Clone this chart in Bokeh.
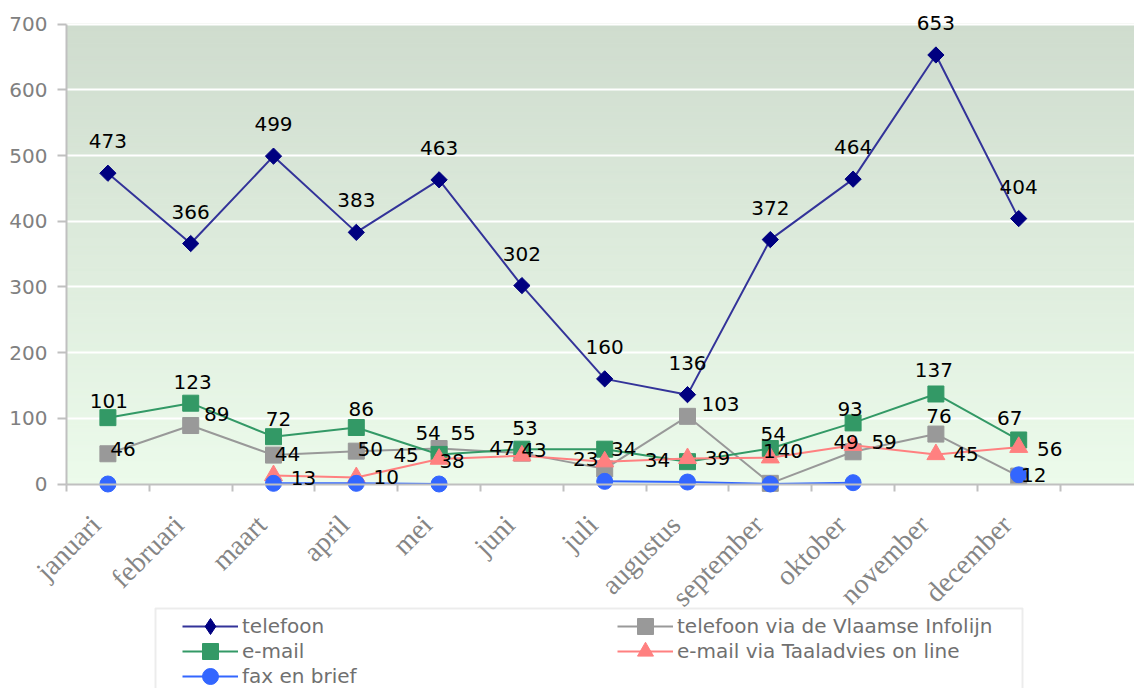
import math
import numpy as np
from bokeh.plotting import figure
from bokeh.models import (Range1d, FixedTicker, Legend, LegendItem, LabelSet, Label,
                          ColumnDataSource, BoxAnnotation)
from bokeh.embed import file_html
from bokeh.resources import INLINE
from bokeh.core.properties import value

# ---------------- data ----------------
months = ["januari", "februari", "maart", "april", "mei", "juni", "juli",
          "augustus", "september", "oktober", "november", "december"]
telefoon = [473, 366, 499, 383, 463, 302, 160, 136, 372, 464, 653, 404]
infolijn = [46, 89, 44, 50, 54, 47, 23, 103, 1, 49, 76, 12]
email = [101, 123, 72, 86, 45, 53, 53, 34, 54, 93, 137, 67]
taaladvies = [None, None, 13, 10, 38, 43, 34, 39, 40, 59, 45, 56]
fax = [0, None, 1, 1, 0, None, 4, 3, 0, 2, None, 14]

series_names = ["telefoon", "telefoon via de Vlaamse Infolijn", "e-mail",
                "e-mail via Taaladvies on line", "fax en brief"]

# ---------------- layout ----------------
FONT = "DejaVu Sans"
xs = [i + 0.5 for i in range(len(months))]

W, H = 1134, 688
AXIS_X_PX = 66                # pixel column of the value axis
PX_PER_UNIT = 0.657           # vertical pixels per data unit
ZERO_PX = 483.5               # pixel row of value 0
SLOT_PX = 82.8                # pixel width of one month slot
y_start = -(H - ZERO_PX) / PX_PER_UNIT
y_end = 700 + (ZERO_PX - 700 * PX_PER_UNIT) / PX_PER_UNIT
x_start = -AXIS_X_PX / SLOT_PX
x_end = (W - AXIS_X_PX) / SLOT_PX

# frame covers the whole canvas so nothing gets clipped
p = figure(width=W, height=H, output_backend="svg", toolbar_location=None,
           x_range=Range1d(x_start, x_end), y_range=Range1d(y_start, y_end),
           min_border_left=0, min_border_right=0, min_border_top=0,
           min_border_bottom=0)
p.outline_line_color = None
p.background_fill_color = "white"
p.border_fill_color = "white"

# gradient plot background (0..700)
bands = np.arange(0, 700, 5)
top_c = np.array([207, 220, 206])
bot_c = np.array([236, 251, 235])
cols = []
for b in bands:
    t = (b + 2.5) / 700.0
    c = bot_c + (top_c - bot_c) * t
    cols.append("#%02x%02x%02x" % tuple(int(round(v)) for v in c))
p.quad(left=0, right=x_end + 1, bottom=bands, top=bands + 5, fill_color=cols,
       line_color=cols, line_width=1, level="image")

# grid
p.xgrid.grid_line_color = None
p.ygrid.grid_line_color = "white"
p.ygrid.grid_line_width = 2
p.ygrid.ticker = FixedTicker(ticks=list(range(100, 701, 100)))
p.ygrid.bounds = (0, x_end + 1)

# y axis at x = 0
p.yaxis.fixed_location = 0
p.yaxis.ticker = FixedTicker(ticks=list(range(0, 701, 100)))
p.yaxis.bounds = (0, 700)
p.yaxis.axis_line_color = "#c0c0c0"
p.yaxis.axis_line_width = 2
p.yaxis.major_tick_line_color = "#c0c0c0"
p.yaxis.major_tick_line_width = 2
p.yaxis.major_tick_in = 0
p.yaxis.major_tick_out = 9
p.yaxis.minor_tick_line_color = None
p.yaxis.major_label_text_font = FONT
p.yaxis.major_label_text_font_size = "20px"
p.yaxis.major_label_text_color = "#808080"
p.yaxis.major_label_standoff = 10

# x axis at value 0: slot-boundary ticks only; month names as rotated labels
p.xaxis.fixed_location = 0
p.xaxis.bounds = (0, x_end + 1)
p.xaxis.ticker = FixedTicker(ticks=[], minor_ticks=list(range(0, 13)))
p.xaxis.axis_line_color = "#c0c0c0"
p.xaxis.axis_line_width = 2
p.xaxis.major_tick_line_color = None
p.xaxis.minor_tick_line_color = "#c0c0c0"
p.xaxis.minor_tick_line_width = 2
p.xaxis.minor_tick_in = 0
p.xaxis.minor_tick_out = 7

month_src = ColumnDataSource(dict(x=xs, y=[0] * len(xs), t=months))
p.add_layout(LabelSet(x="x", y="y", text="t", source=month_src,
                      x_offset=-12, y_offset=-36, angle=math.pi / 4,
                      text_font=value("Liberation Serif"), text_font_size="28px",
                      text_color="#858585", text_align="right",
                      text_baseline="middle"))


def arr(vals):
    return [np.nan if v is None else v for v in vals]


styles = [
    dict(line="#333399", fill="#000080", marker="square", size=11.5, angle=math.pi / 4),
    dict(line="#999999", fill="#999999", marker="square", size=16, angle=0),
    dict(line="#339966", fill="#339966", marker="square", size=16, angle=0),
    dict(line="#ff8080", fill="#ff8080", marker="triangle", size=18, angle=0),
    dict(line="#3366ff", fill="#3366ff", marker="circle", size=16, angle=0),
]
all_series = [telefoon, infolijn, email, taaladvies, fax]

items = []
for k, (name, vals, st) in enumerate(zip(series_names, all_series, styles)):
    src = ColumnDataSource(dict(x=xs, y=arr(vals)))
    ln = p.line("x", "y", source=src, line_color=st["line"], line_width=2)
    sc = p.scatter("x", "y", source=src, marker=st["marker"], size=st["size"],
                   angle=st["angle"], fill_color=st["fill"], line_color=st["fill"])
    if k == 0:
        # legend swatch: diamond (legend glyphs are drawn unrotated)
        sc = p.scatter(x=[np.nan], y=[np.nan], marker="diamond", size=16,
                       fill_color=st["fill"], line_color=st["fill"])
    items.append(LegendItem(label=name, renderers=[ln, sc]))

# ---------------- data labels (screen offsets dx, dy(down)) ----------------
label_offsets = [
    [(0, -32)] * 12,
    [(15, -5), (26, -12), (14, -1), (14, -2), (-11, -16), (-20, -5),
     (-19, -10), (33, -12), (-1, -32), (-7, -10), (3, -18), (15, -1)],
    [(1, -17), (2, -21), (5, -18), (5, -18), (-33, 1), (3, -21),
     None, (-30, -2), (3, -15), (-3, -14), (-2, -24), (-9, -22)],
    [None, None, (30, 3), (30, 0), (13, 2), (12, -6),
     (19, -13), (30, 0), (20, -7), (31, -3), (30, 0), (31, 2)],
    [None] * 12,
]

for vals, offs in zip(all_series, label_offsets):
    lx, ly, lt, ox, oy = [], [], [], [], []
    for x, v, o in zip(xs, vals, offs):
        if v is None or o is None:
            continue
        lx.append(x); ly.append(v); lt.append(str(v))
        ox.append(o[0]); oy.append(-o[1])
    if not lx:
        continue
    ls = LabelSet(x="x", y="y", text="t", x_offset="ox", y_offset="oy",
                  source=ColumnDataSource(dict(x=lx, y=ly, t=lt, ox=ox, oy=oy)),
                  text_font=value(FONT), text_font_size="20px", text_color="black",
                  text_align="center", text_baseline="middle")
    p.add_layout(ls)

# stray label beside May in the original
p.add_layout(Label(x=xs[4], y=infolijn[4], text="55", x_offset=24, y_offset=16,
                   text_font=FONT, text_font_size="20px", text_color="black",
                   text_align="center", text_baseline="middle"))

# ---------------- legend (one single-item legend per cell) ----------------
def make_legend(item, loc):
    return Legend(items=[item], location=loc, orientation="vertical",
                  padding=0, spacing=0, margin=0,
                  glyph_width=56, glyph_height=40, label_height=20,
                  label_standoff=4,
                  label_text_font=FONT, label_text_font_size="20px",
                  label_text_color="#707070",
                  border_line_color=None, background_fill_alpha=0)

legend_cells = [(items[0], (182, 42)), (items[1], (617, 42)),
                (items[2], (182, 17)), (items[3], (617, 17)),
                (items[4], (182, -8))]
for it, loc in legend_cells:
    p.add_layout(make_legend(it, loc), "center")

box = BoxAnnotation(left=155, right=1022, top=608, bottom=720,
                    left_units="canvas", right_units="canvas",
                    top_units="canvas", bottom_units="canvas",
                    fill_alpha=0, line_color="#c0c0c0", line_width=2)
p.add_layout(box)

open("out.html", "w").write(file_html(p, INLINE))
